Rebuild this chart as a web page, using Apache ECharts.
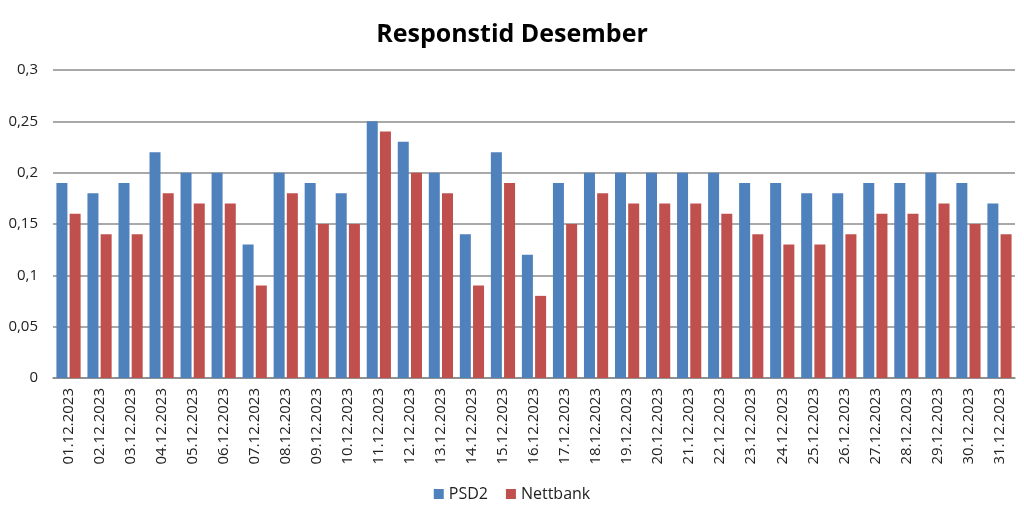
<!DOCTYPE html>
<html><head><meta charset="utf-8">
<script src="https://cdn.jsdelivr.net/npm/echarts@6/dist/echarts.min.js"></script>
<style>html,body{margin:0;padding:0;background:#fff}#c{width:1024px;height:515px}</style>
</head><body><div id="c"></div>
<script>
const categories = ["01.12.2023","02.12.2023","03.12.2023","04.12.2023","05.12.2023","06.12.2023","07.12.2023","08.12.2023","09.12.2023","10.12.2023","11.12.2023","12.12.2023","13.12.2023","14.12.2023","15.12.2023","16.12.2023","17.12.2023","18.12.2023","19.12.2023","20.12.2023","21.12.2023","22.12.2023","23.12.2023","24.12.2023","25.12.2023","26.12.2023","27.12.2023","28.12.2023","29.12.2023","30.12.2023","31.12.2023"];
const psd2 = [0.19,0.18,0.19,0.22,0.20,0.20,0.13,0.20,0.19,0.18,0.25,0.23,0.20,0.14,0.22,0.12,0.19,0.20,0.20,0.20,0.20,0.20,0.19,0.19,0.18,0.18,0.19,0.19,0.20,0.19,0.17];
const nettbank = [0.16,0.14,0.14,0.18,0.17,0.17,0.09,0.18,0.15,0.15,0.24,0.20,0.18,0.09,0.19,0.08,0.15,0.18,0.17,0.17,0.17,0.16,0.14,0.13,0.13,0.14,0.16,0.16,0.17,0.15,0.14];
const yTicks = [0,0.05,0.1,0.15,0.2,0.25,0.3];
const font = '"Open Sans", "Noto Sans", sans-serif';
const chart = echarts.init(document.getElementById('c'));
chart.setOption({
  animation:false,
  title:{text:'Responstid Desember',left:'center',top:17,textStyle:{fontFamily:font,fontSize:25,fontWeight:'bold',color:'#000'}},
  legend:{bottom:8,left:'center',itemWidth:10,itemHeight:10,itemGap:18,icon:'rect',textStyle:{fontFamily:font,fontSize:16,color:'#222'},data:['PSD2','Nettbank']},
  grid:{left:53,right:9,top:70,bottom:137,containLabel:false},
  xAxis:{type:'category',data:categories,axisLine:{lineStyle:{color:'#888',width:1.5}},axisTick:{show:false},
    axisLabel:{rotate:90,fontFamily:font,fontSize:15,color:'#222',margin:10,interval:0}},
  yAxis:{type:'value',min:0,max:0.3,interval:0.05,
    axisLabel:{fontFamily:font,fontSize:15,color:'#222',margin:15,formatter:v=>{const t=yTicks.find(x=>Math.abs(x-v)<1e-9);return String(t===undefined?v:t).replace('.',',');}},
    axisLine:{show:false},axisTick:{show:false},splitLine:{lineStyle:{color:'#8c8c8c',width:1.5}}},
  series:[
    {name:'PSD2',type:'bar',data:psd2,itemStyle:{color:'#4f81bd'},barGap:'20%',barCategoryGap:'22%'},
    {name:'Nettbank',type:'bar',data:nettbank,itemStyle:{color:'#c0504d'},barGap:'20%',barCategoryGap:'22%'}
  ]
});
</script></body></html>
